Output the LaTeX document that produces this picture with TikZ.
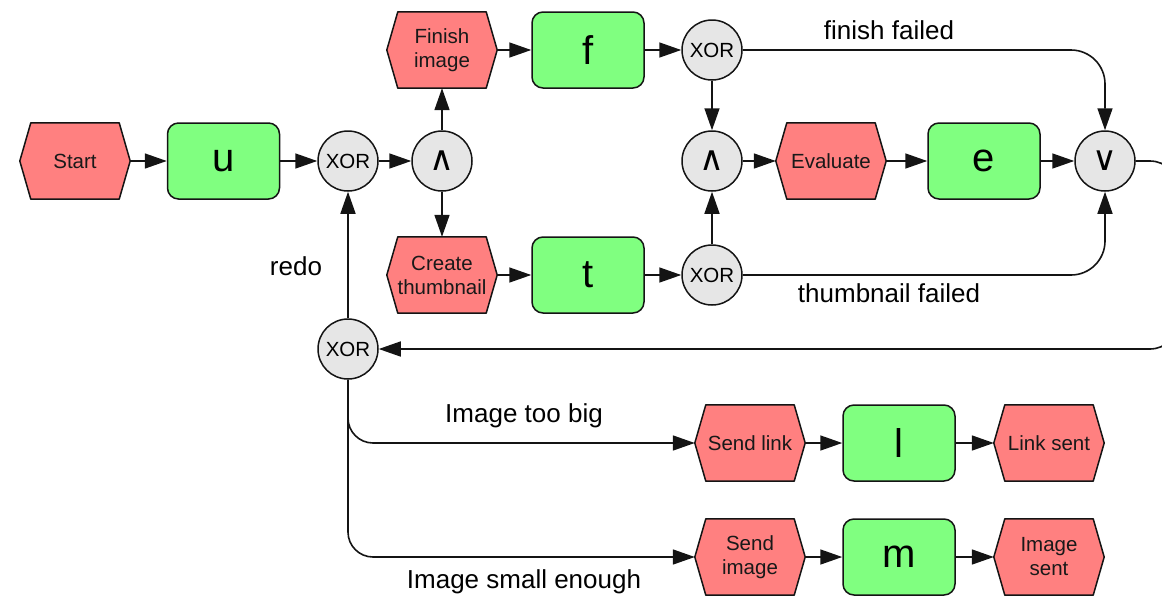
\documentclass[tikz,border=0pt]{standalone}
\usepackage{fontspec}
\setmainfont{Liberation Sans}
\newfontfamily\symfont{DejaVu Sans}
\usetikzlibrary{arrows.meta}
\pgfdeclarelayer{background}
\pgfsetlayers{background,main}
\definecolor{evtred}{RGB}{255,128,128}
\definecolor{boxgreen}{RGB}{128,255,128}
\definecolor{gategray}{RGB}{230,230,230}
\definecolor{edge}{RGB}{20,20,20}
\newcommand{\hexbg}[1]{%
  \filldraw[evtred, draw=edge, line width=1.5pt, line join=round]
    (#1.west) -- ([xshift=11pt]#1.north west) -- ([xshift=-11pt]#1.north east)
    -- (#1.east) -- ([xshift=-11pt]#1.south east) -- ([xshift=11pt]#1.south west) -- cycle;}
\begin{document}
\begin{tikzpicture}[x=1pt,y=-1pt,
  hexn/.style={minimum width=110pt, minimum height=76pt, inner sep=0pt, align=center,
    text=black!90, font=\fontsize{20.5}{24}\selectfont},
  func/.style={draw=edge, line width=1.5pt, rounded corners=11pt, fill=boxgreen,
    minimum width=112pt, minimum height=76pt, inner sep=0pt, font=\fontsize{40}{44}\selectfont},
  gate/.style={circle, draw=edge, line width=1.5pt, fill=gategray, minimum size=60pt,
    inner sep=0pt, font=\fontsize{20.5}{22}\selectfont},
  symg/.style={gate, font=\symfont\fontsize{34}{36}\selectfont},
  lbl/.style={font=\fontsize{26}{30}\selectfont},
  conn/.style={draw=edge, line width=1.6pt, -{Triangle[length=22pt,width=15pt]}}
]
\useasboundingbox (0,0) rectangle (1162,600);

% event nodes (hexagons)
\node[hexn] (start) at (75,161) {Start};
\node[hexn] (fin) at (442,50) {Finish\\image};
\node[hexn] (crt) at (442,275) {Create\\thumbnail};
\node[hexn] (ev) at (831,161) {Evaluate};
\node[hexn] (sl) at (750,443) {Send link};
\node[hexn] (ls) at (1049,443) {Link sent};
\node[hexn] (si) at (750,557) {Send\\image};
\node[hexn] (is) at (1049,557) {Image\\sent};
\begin{pgfonlayer}{background}
  \hexbg{start}\hexbg{fin}\hexbg{crt}\hexbg{ev}\hexbg{sl}\hexbg{ls}\hexbg{si}\hexbg{is}
\end{pgfonlayer}

% function boxes
\node[func] (u) at (223.5,161) {u};
\node[func] (f) at (588,50) {f};
\node[func] (t) at (588,275) {t};
\node[func] (e) at (984,161) {e};
\node[func] (l) at (899,443) {l};
\node[func] (m) at (899,557) {m};

% gates
\node[gate] (x1) at (348,161) {XOR};
\node[symg] (a1) at (442,161) {∧};
\node[gate] (x2) at (712,50) {XOR};
\node[symg] (a2) at (712,161) {∧};
\node[gate] (x3) at (712,275) {XOR};
\node[symg] (v) at (1105,161) {∨};
\node[gate] (x4) at (348,349) {XOR};

% connectors
\draw[conn] (start.east) -- (u.west);
\draw[conn] (u.east) -- (x1.west);
\draw[conn] (x1.east) -- (a1.west);
\draw[conn] (a1.north) -- (fin.south);
\draw[conn] (a1.south) -- (crt.north);
\draw[conn] (fin.east) -- (f.west);
\draw[conn] (f.east) -- (x2.west);
\draw[conn] (crt.east) -- (t.west);
\draw[conn] (t.east) -- (x3.west);
\draw[conn] (x2.south) -- (a2.north);
\draw[conn] (x3.north) -- (a2.south);
\draw[conn] (a2.east) -- (ev.west);
\draw[conn] (ev.east) -- (e.west);
\draw[conn] (e.east) -- (v.west);
\draw[conn, rounded corners=34pt] (x2.east) -| (v.north);
\draw[conn, rounded corners=34pt] (x3.east) -| (v.south);
\coordinate (loop) at (1178,161);
\draw[conn, rounded corners=28pt] (v.east) -- (loop) |- (x4.east);
\draw[conn] (x4.north) -- (x1.south);
\draw[conn, rounded corners=25pt] (x4.south) |- (sl.west);
\draw[conn, rounded corners=25pt] (x4.south) |- (si.west);
\draw[conn] (sl.east) -- (l.west);
\draw[conn] (l.east) -- (ls.west);
\draw[conn] (si.east) -- (m.west);
\draw[conn] (m.east) -- (is.west);

% labels
\node[lbl] (lff) at (889,30) {finish failed};
\node[lbl] (ltf) at (889,293) {thumbnail failed};
\node[lbl] (lredo) at (296,266) {redo};
\node[lbl] (lbig) at (524,416) {Image too big};
\node[lbl] (lsmall) at (524,582) {Image small enough};
\end{tikzpicture}
\end{document}
